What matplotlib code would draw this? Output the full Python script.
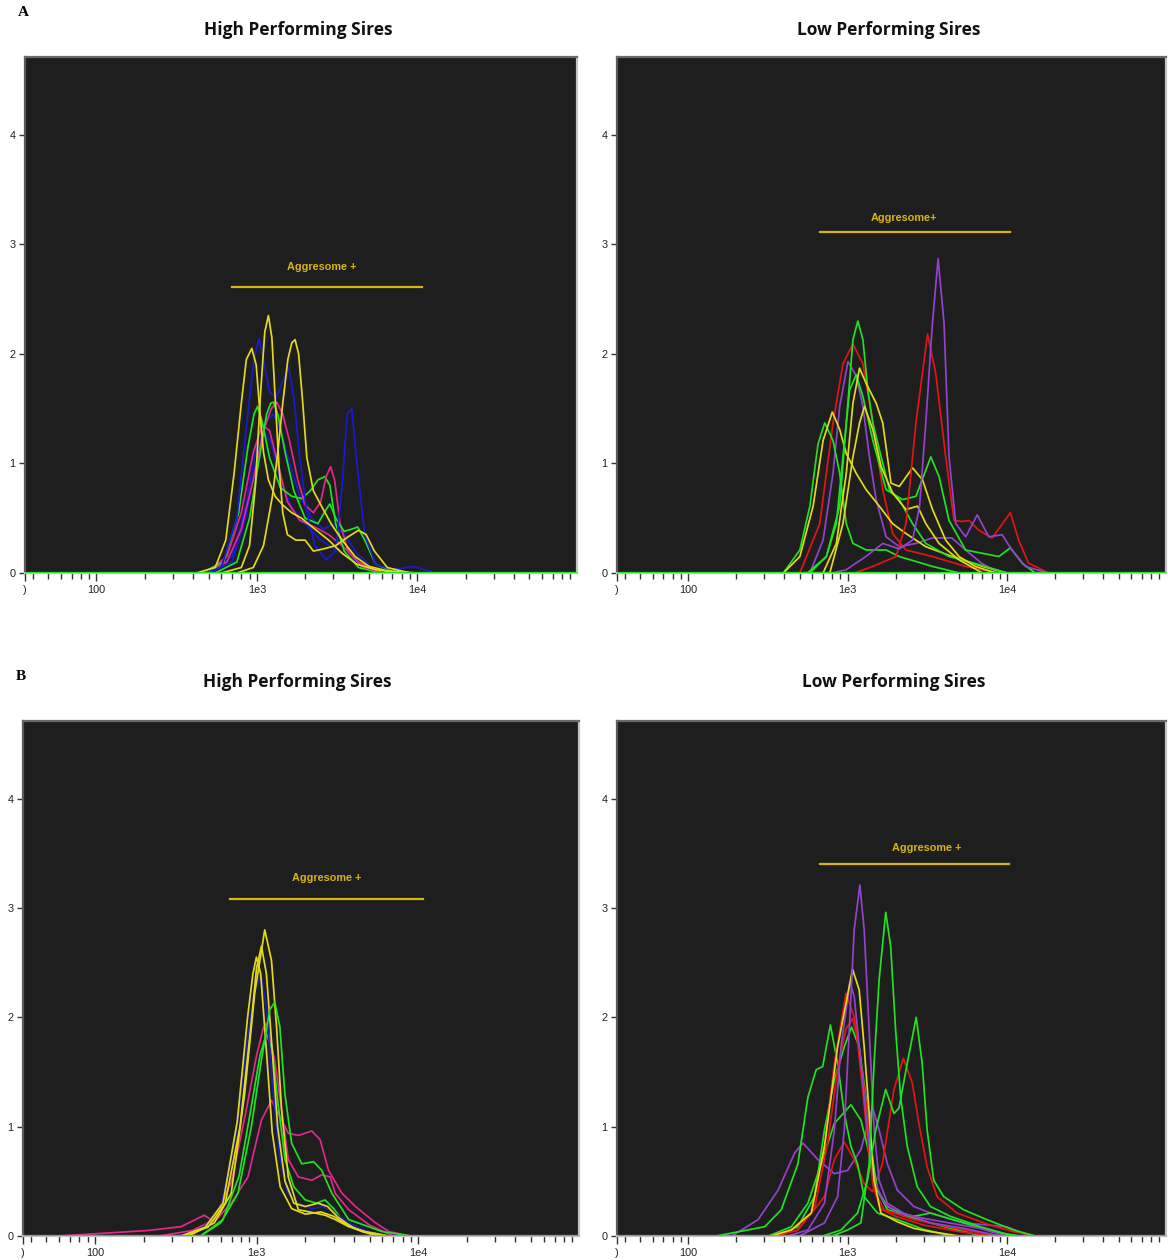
import matplotlib.pyplot as plt
from matplotlib.ticker import LogLocator, NullFormatter

# ---- colours used by the cytometer overlay ----
YEL = '#e3d91c'
BLU = '#1a1ad2'
MAG = '#e0288e'
GRN = '#22e022'
RED = '#e01616'
PUR = '#9442cc'
AGG = '#d8b414'

# ---- panel A, high performing sires ----
AL_Y1 = ([420, 550, 640, 720, 800, 860, 930, 990, 1040, 1100, 1180, 1300, 1450, 1650, 1900, 2300, 2800, 3400, 4200, 5500, 8000],
         [0, 0.05, 0.3, 0.9, 1.55, 1.95, 2.05, 1.9, 1.5, 1.1, 0.85, 0.7, 0.62, 0.55, 0.5, 0.4, 0.3, 0.18, 0.08, 0.03, 0])
AL_Y2 = ([600, 800, 900, 980, 1050, 1120, 1180, 1240, 1300, 1370, 1450, 1550, 1750, 2000, 2250, 2600, 3100, 3700, 4300, 4800, 5400, 6500, 9000],
         [0, 0.05, 0.25, 0.8, 1.6, 2.2, 2.35, 2.15, 1.6, 1.0, 0.55, 0.35, 0.3, 0.3, 0.2, 0.22, 0.25, 0.33, 0.39, 0.35, 0.2, 0.05, 0])
AL_Y3 = ([750, 950, 1100, 1250, 1350, 1450, 1560, 1650, 1730, 1820, 1920, 2050, 2250, 2550, 2900, 3400, 4100, 5000, 6500, 9000],
         [0, 0.05, 0.25, 0.7, 1.1, 1.55, 1.95, 2.1, 2.13, 2.0, 1.6, 1.05, 0.75, 0.6, 0.45, 0.3, 0.15, 0.06, 0.02, 0])
AL_B1 = ([450, 600, 750, 870, 960, 1030, 1100, 1200, 1320, 1450, 1580, 1700, 1850, 2050, 2300, 2700, 3100, 3400, 3650, 3900, 4200, 4700, 5500, 7000, 9500, 13000],
         [0, 0.05, 0.5, 1.4, 1.95, 2.14, 1.95, 1.65, 1.6, 1.75, 1.88, 1.6, 1.05, 0.55, 0.25, 0.12, 0.2, 0.8, 1.45, 1.5, 1.0, 0.35, 0.08, 0.03, 0.06, 0])
AL_B2 = ([500, 700, 850, 1000, 1150, 1270, 1400, 1600, 1850, 2200, 2600, 3000, 3500, 4200, 5200, 7000],
         [0, 0.1, 0.5, 1.05, 1.4, 1.45, 1.3, 1.0, 0.7, 0.5, 0.4, 0.45, 0.35, 0.18, 0.05, 0])
AL_B3 = ([500, 700, 850, 980, 1100, 1220, 1400, 1650, 2000, 2500, 3200, 4000, 5000, 6500],
         [0, 0.15, 0.6, 1.1, 1.3, 1.2, 0.85, 0.6, 0.45, 0.3, 0.2, 0.12, 0.05, 0])
AL_M1 = ([480, 650, 800, 950, 1100, 1230, 1330, 1450, 1600, 1800, 2000, 2250, 2500, 2700, 2880, 3050, 3300, 3700, 4500, 6000],
         [0, 0.1, 0.4, 0.85, 1.3, 1.5, 1.56, 1.45, 1.2, 0.85, 0.62, 0.55, 0.65, 0.88, 0.97, 0.85, 0.45, 0.2, 0.06, 0])
AL_M2 = ([480, 650, 800, 950, 1080, 1200, 1350, 1550, 1850, 2300, 2800, 3400, 4300, 6000],
         [0, 0.15, 0.55, 1.1, 1.35, 1.3, 1.0, 0.65, 0.48, 0.42, 0.35, 0.25, 0.1, 0])
AL_G1 = ([450, 620, 770, 880, 960, 1010, 1080, 1200, 1400, 1650, 1900, 2150, 2400, 2650, 2850, 3100, 3500, 4300, 6000],
         [0, 0.1, 0.55, 1.15, 1.45, 1.52, 1.38, 1.05, 0.78, 0.7, 0.68, 0.75, 0.85, 0.88, 0.8, 0.45, 0.2, 0.05, 0])
AL_G2 = ([550, 750, 900, 1050, 1150, 1220, 1270, 1350, 1500, 1700, 2000, 2400, 2700, 2850, 3100, 3500, 3900, 4250, 4700, 5500, 7000, 10000],
         [0, 0.1, 0.5, 1.1, 1.45, 1.55, 1.56, 1.45, 1.1, 0.75, 0.5, 0.45, 0.58, 0.63, 0.5, 0.38, 0.4, 0.42, 0.3, 0.08, 0.02, 0])

# ---- panel A, low performing sires ----
AR_P1 = ([800, 980, 1300, 1660, 2110, 2550, 2820, 3090, 3400, 3690, 4020, 4320, 4760, 5490, 6490, 7670, 9290, 10700, 13000, 18000],
         [0, 0.03, 0.15, 0.27, 0.22, 0.3, 0.6, 1.37, 2.28, 2.87, 2.28, 1.06, 0.45, 0.33, 0.53, 0.33, 0.35, 0.21, 0.06, 0])
AR_P2 = ([580, 702, 810, 892, 1005, 1132, 1247, 1370, 1510, 1742, 2108, 2680, 3403, 4500, 5485, 6900, 8860],
         [0, 0.3, 0.91, 1.52, 1.93, 1.80, 1.52, 1.06, 0.67, 0.33, 0.24, 0.27, 0.32, 0.32, 0.21, 0.09, 0])
AR_R1 = ([502, 669, 810, 935, 1080, 1247, 1439, 1660, 1916, 2321, 3403, 5485, 8860],
         [0, 0.45, 1.37, 1.91, 2.09, 1.91, 1.37, 0.76, 0.36, 0.21, 0.15, 0.06, 0])
AR_R2 = ([1100, 1439, 2010, 2321, 2680, 3168, 3567, 4117, 4643, 5238, 5754, 6641, 8044, 10470, 11800, 13610, 18140],
         [0, 0.06, 0.15, 0.45, 1.37, 2.18, 1.82, 1.06, 0.48, 0.47, 0.48, 0.39, 0.32, 0.55, 0.30, 0.09, 0])
AR_G1 = ([560, 736, 892, 981, 1080, 1159, 1247, 1339, 1439, 1622, 1828, 2108, 2554, 3092, 4321, 6200, 10000],
         [0, 0.15, 0.61, 1.37, 2.13, 2.30, 2.13, 1.67, 1.37, 1.06, 0.76, 0.67, 0.45, 0.27, 0.15, 0.09, 0])
AR_G2 = ([396, 502, 580, 653, 719, 810, 892, 981, 1080, 1307, 1742, 2108, 3403, 5000],
         [0, 0.21, 0.61, 1.18, 1.37, 1.21, 0.91, 0.45, 0.27, 0.21, 0.21, 0.15, 0.06, 0])
AR_G3 = ([580, 736, 850, 935, 1029, 1132, 1247, 1439, 1742, 2215, 2680, 3322, 3740, 4321, 5485, 8860, 10470, 12400, 15000],
         [0, 0.15, 0.45, 1.06, 1.67, 1.81, 1.61, 1.21, 0.76, 0.67, 0.70, 1.06, 0.88, 0.48, 0.21, 0.15, 0.23, 0.09, 0])
AR_Y1 = ([396, 502, 608, 702, 802, 892, 981, 1132, 1307, 1580, 1916, 2321, 3092, 4530, 7000, 10000],
         [0, 0.15, 0.61, 1.21, 1.47, 1.31, 1.09, 0.91, 0.76, 0.61, 0.45, 0.36, 0.24, 0.15, 0.06, 0])
AR_Y2 = ([702, 850, 981, 1080, 1188, 1307, 1510, 1660, 1870, 2108, 2554, 2947, 3403, 4117, 4992, 6300, 8500],
         [0, 0.27, 0.91, 1.55, 1.87, 1.73, 1.55, 1.37, 0.82, 0.79, 0.96, 0.85, 0.58, 0.30, 0.15, 0.06, 0])
AR_Y3 = ([773, 935, 1080, 1188, 1276, 1439, 1622, 1916, 2321, 2743, 3092, 3740, 4992, 7000],
         [0, 0.45, 1.06, 1.37, 1.52, 1.31, 0.97, 0.73, 0.58, 0.61, 0.45, 0.27, 0.12, 0])

# ---- panel B, high performing sires ----
BL_Y1 = ([380, 548, 697, 844, 974, 1124, 1237, 1330, 1429, 1571, 1814, 2303, 2658, 3069, 3718, 4723, 6500],
         [0, 0.12, 0.39, 1.30, 2.22, 2.80, 2.52, 1.91, 1.15, 0.54, 0.24, 0.21, 0.19, 0.15, 0.085, 0.04, 0])
BL_Y2 = ([350, 500, 640, 790, 920, 1000, 1072, 1150, 1250, 1350, 1500, 1700, 2000, 2400, 2750, 3200, 4000, 5500],
         [0, 0.08, 0.3, 1.0, 1.9, 2.45, 2.65, 2.4, 1.7, 1.0, 0.5, 0.3, 0.27, 0.3, 0.27, 0.17, 0.07, 0])
BL_Y3 = ([340, 480, 620, 760, 880, 950, 998, 1060, 1150, 1250, 1400, 1650, 2000, 2500, 3000, 3600, 4500, 6000],
         [0, 0.08, 0.3, 1.05, 2.0, 2.4, 2.55, 2.4, 1.7, 0.95, 0.45, 0.25, 0.2, 0.22, 0.18, 0.1, 0.04, 0])
BL_B1 = ([320, 450, 600, 750, 870, 960, 1061, 1150, 1250, 1380, 1550, 1800, 2200, 2600, 3100, 3700, 4700, 6000],
         [0, 0.05, 0.25, 0.95, 1.75, 2.2, 2.40, 2.1, 1.4, 0.75, 0.4, 0.3, 0.25, 0.27, 0.2, 0.12, 0.05, 0])
BL_G1 = ([450, 600, 767, 929, 1072, 1207, 1298, 1394, 1497, 1648, 1903, 2250, 2534, 2925, 3718, 5998, 9000],
         [0, 0.12, 0.39, 1.0, 1.61, 2.07, 2.14, 1.91, 1.30, 0.85, 0.66, 0.68, 0.60, 0.39, 0.15, 0.04, 0])
BL_G2 = ([450, 620, 780, 920, 1050, 1151, 1250, 1361, 1500, 1700, 2000, 2350, 2650, 3000, 3500, 4500, 6500],
         [0, 0.15, 0.55, 1.15, 1.65, 1.85, 1.7, 1.2, 0.7, 0.45, 0.33, 0.3, 0.33, 0.25, 0.12, 0.05, 0])
BL_M1 = ([250, 400, 550, 700, 850, 1000, 1100, 1151, 1298, 1429, 1571, 1814, 2197, 2534, 2857, 3069, 3718, 5000, 7000],
         [0, 0.05, 0.15, 0.5, 1.1, 1.65, 1.9, 1.95, 1.6, 1.15, 0.7, 0.54, 0.51, 0.56, 0.54, 0.39, 0.24, 0.1, 0])
BL_M2 = ([60, 211, 340, 475, 548, 697, 885, 1072, 1237, 1361, 1571, 1814, 2197, 2474, 2788, 3378, 4092, 5451, 6600, 9000],
         [0, 0.05, 0.085, 0.19, 0.13, 0.30, 0.54, 1.06, 1.24, 1.12, 0.94, 0.92, 0.96, 0.88, 0.60, 0.39, 0.27, 0.12, 0.04, 0])

# ---- panel B, low performing sires ----
BR_P1 = ([500, 716, 866, 953, 1024, 1100, 1193, 1270, 1365, 1466, 1575, 1775, 2234, 3303, 5328, 9000],
         [0, 0.12, 0.36, 0.97, 1.88, 2.80, 3.21, 2.80, 1.88, 0.97, 0.51, 0.30, 0.21, 0.12, 0.07, 0])
BR_P2 = ([420, 564, 716, 826, 909, 1034, 1100, 1211, 1332, 1466, 1692, 2049, 3303, 6770, 10000],
         [0, 0.055, 0.30, 0.97, 1.73, 2.32, 2.19, 1.58, 0.97, 0.51, 0.30, 0.21, 0.15, 0.07, 0])
BR_P3 = ([188, 275, 367, 466, 525, 650, 826, 1000, 1211, 1432, 1575, 1775, 2049, 2600, 3303, 5328, 9932, 14000],
         [0, 0.15, 0.42, 0.76, 0.85, 0.70, 0.57, 0.60, 0.79, 1.18, 0.97, 0.66, 0.42, 0.27, 0.21, 0.12, 0.085, 0])
BR_R1 = ([330, 444, 592, 716, 826, 977, 1100, 1211, 1332, 1397, 1466, 1692, 2600, 5328, 9000],
         [0, 0.055, 0.21, 0.82, 1.58, 2.22, 2.0, 1.58, 1.12, 0.79, 0.42, 0.24, 0.15, 0.055, 0])
BR_R2 = ([350, 480, 620, 750, 870, 980, 1075, 1150, 1250, 1350, 1450, 1600, 2000, 3000, 5000, 8000],
         [0, 0.05, 0.25, 0.85, 1.55, 1.9, 1.99, 1.8, 1.3, 0.8, 0.45, 0.25, 0.18, 0.1, 0.04, 0])
BR_R3 = ([350, 488, 716, 826, 953, 1100, 1270, 1432, 1652, 1952, 2234, 2542, 2797, 3150, 3634, 4842, 7815, 10930, 15000],
         [0, 0.055, 0.36, 0.70, 0.86, 0.70, 0.48, 0.405, 0.66, 1.34, 1.625, 1.40, 1.03, 0.63, 0.36, 0.21, 0.10, 0.04, 0])
BR_Y1 = ([330, 444, 592, 716, 866, 1074, 1182, 1270, 1365, 1466, 1615, 2049, 2600, 3303, 5000],
         [0, 0.055, 0.21, 0.82, 1.73, 2.44, 2.25, 1.73, 1.12, 0.51, 0.21, 0.13, 0.07, 0.04, 0])
BR_G1 = ([800, 1000, 1211, 1365, 1466, 1575, 1733, 1861, 2000, 2149, 2364, 2730, 3303, 4402, 6770, 10930],
         [0, 0.055, 0.12, 0.66, 1.58, 2.34, 2.96, 2.65, 1.88, 1.27, 0.82, 0.45, 0.27, 0.18, 0.085, 0])
BR_G2 = ([700, 909, 1154, 1332, 1500, 1733, 1952, 2099, 2364, 2691, 2932, 3150, 3464, 4000, 5328, 7449, 10930, 15000],
         [0, 0.055, 0.21, 0.51, 0.97, 1.34, 1.12, 1.17, 1.58, 2.0, 1.58, 0.97, 0.51, 0.36, 0.24, 0.15, 0.055, 0])
BR_G3 = ([150, 303, 384, 488, 564, 635, 698, 780, 866, 953, 1049, 1154, 1270, 1538, 2049, 3000, 4500],
         [0, 0.085, 0.24, 0.66, 1.27, 1.52, 1.55, 1.93, 1.58, 1.12, 0.82, 0.66, 0.36, 0.21, 0.15, 0.06, 0])
BR_G4 = ([350, 488, 620, 716, 826, 953, 1059, 1182, 1301, 1397, 1538, 1775, 2364, 3303, 5000, 7000],
         [0, 0.085, 0.36, 0.97, 1.43, 1.73, 1.91, 1.73, 1.27, 0.82, 0.42, 0.27, 0.18, 0.12, 0.05, 0])
BR_G5 = ([320, 444, 564, 682, 826, 1049, 1211, 1332, 1538, 1775, 2600, 3303, 5328, 8000, 12000],
         [0, 0.085, 0.30, 0.66, 1.03, 1.20, 1.06, 0.82, 0.42, 0.24, 0.18, 0.21, 0.12, 0.04, 0])

# Aggresome+ gate: [x start, x end, y], label position [x, y]
GATE_A_HI = [698, 10670, 2.615]
GATE_A_LO = [676, 10470, 3.117]
GATE_B_HI = [681, 10640, 3.08]
GATE_B_LO = [673, 10260, 3.40]
LABEL_A_HI = [2540, 2.79]
LABEL_A_LO = [2265, 3.24]
LABEL_B_HI = [2723, 3.27]
LABEL_B_LO = [3120, 3.55]

X_TICKS = [100, 1000, 10000]
X_TICKLABELS = ['100', '1e3', '1e4']
Y_TICKS = [0, 1, 2, 3, 4]

XMIN, XMAX = 10 ** 1.555, 10 ** 4.995
YMAX = 4.71

W, H = 1168, 1260
fig = plt.figure(figsize=(W / 100, H / 100), dpi=100)
fig.patch.set_facecolor('white')


def panel(px_box, curves, gate, label, label_text):
    x0, y0, x1, y1 = px_box
    ax = fig.add_axes([x0 / W, 1 - y1 / H, (x1 - x0) / W, (y1 - y0) / H])
    ax.set_facecolor('#1e1e1e')
    for (xs, ys), col in curves:
        ax.plot(xs, ys, color=col, lw=1.25, solid_joinstyle='round')
    ax.axhline(0, color=GRN, lw=2.2, zorder=5)
    ax.plot(gate[:2], [gate[2], gate[2]], color=AGG, lw=1.6)
    ax.text(label[0], label[1], label_text, color=AGG, fontsize=7.8,
            fontweight='bold', ha='center', va='center', family='Liberation Sans')
    ax.set_xscale('log')
    ax.set_xlim(XMIN, XMAX)
    ax.set_ylim(0, YMAX)
    ax.set_xticks([XMIN] + X_TICKS)
    ax.set_xticklabels([')'] + X_TICKLABELS)
    ax.xaxis.set_minor_locator(LogLocator(base=10, subs=range(2, 10), numticks=20))
    ax.xaxis.set_minor_formatter(NullFormatter())
    ax.set_yticks(Y_TICKS)
    ax.set_yticklabels([str(v) for v in Y_TICKS])
    ax.tick_params(axis='x', which='major', length=6, width=1, colors='#333333',
                   labelsize=7.8, pad=3, labelcolor='#222222')
    ax.tick_params(axis='x', which='minor', length=4, width=1, colors='#333333')
    ax.tick_params(axis='y', length=4, width=1, colors='#333333', labelsize=7.8,
                   pad=3, labelcolor='#222222')
    for lab in ax.get_xticklabels() + ax.get_yticklabels():
        lab.set_family('Liberation Sans')
    for side, col in [('top', '#6a6a6a'), ('left', '#5a5a5a'),
                      ('right', '#c4c4c4'), ('bottom', '#c4c4c4')]:
        ax.spines[side].set_color(col)
        ax.spines[side].set_linewidth(1.6)
    return ax


panel((25, 57, 577, 573),
      [(AL_B2, BLU), (AL_B3, BLU), (AL_M2, MAG), (AL_G1, GRN), (AL_M1, MAG),
       (AL_G2, GRN), (AL_B1, BLU), (AL_Y1, YEL), (AL_Y2, YEL), (AL_Y3, YEL)],
      GATE_A_HI, LABEL_A_HI, 'Aggresome +')
panel((617, 57, 1166, 573),
      [(AR_P2, PUR), (AR_R1, RED), (AR_G2, GRN), (AR_Y1, YEL), (AR_G1, GRN),
       (AR_G3, GRN), (AR_Y3, YEL), (AR_Y2, YEL), (AR_R2, RED), (AR_P1, PUR)],
      GATE_A_LO, LABEL_A_LO, 'Aggresome+')
panel((23, 721, 579, 1236),
      [(BL_M2, MAG), (BL_M1, MAG), (BL_G2, GRN), (BL_B1, BLU), (BL_Y3, YEL),
       (BL_Y2, YEL), (BL_Y1, YEL), (BL_G1, GRN)],
      GATE_B_HI, LABEL_B_HI, 'Aggresome +')
panel((617, 721, 1166, 1236),
      [(BR_P3, PUR), (BR_G5, GRN), (BR_R3, RED), (BR_G3, GRN), (BR_G4, GRN),
       (BR_R2, RED), (BR_R1, RED), (BR_P2, PUR), (BR_Y1, YEL), (BR_P1, PUR),
       (BR_G2, GRN), (BR_G1, GRN)],
      GATE_B_LO, LABEL_B_LO, 'Aggresome +')

title_kw = dict(fontsize=12.5, fontweight='bold', ha='center', va='center',
                family='Open Sans', color='#111111')
fig.text(298 / W, 1 - 30 / H, 'High Performing Sires', **title_kw)
fig.text(889 / W, 1 - 30 / H, 'Low Performing Sires', **title_kw)
fig.text(297 / W, 1 - 682 / H, 'High Performing Sires', **title_kw)
fig.text(894 / W, 1 - 682 / H, 'Low Performing Sires', **title_kw)

fig.text(18 / W, 1 - 13 / H, 'A', fontsize=11, fontweight='bold', family='Liberation Serif',
         ha='left', va='center')
fig.text(16 / W, 1 - 677 / H, 'B', fontsize=11, fontweight='bold', family='Liberation Serif',
         ha='left', va='center')

fig.savefig('out.png', dpi=100, facecolor='white')
